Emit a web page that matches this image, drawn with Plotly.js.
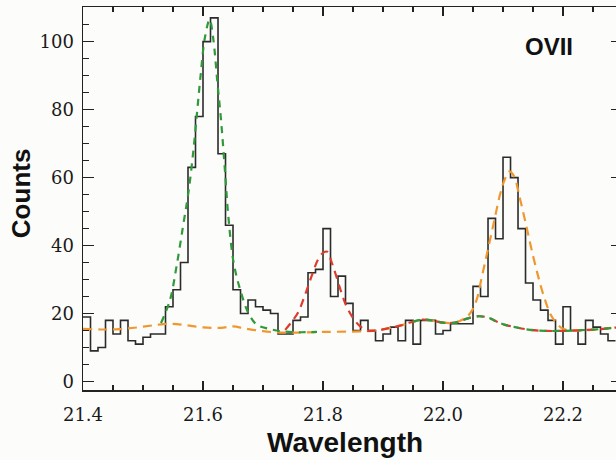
<!DOCTYPE html>
<html>
<head>
<meta charset="utf-8">
<script src="https://cdn.plot.ly/plotly-3.0.1.min.js"></script>
<style>
html,body{margin:0;padding:0;background:#fcfcfa;overflow:hidden;width:616px;height:460px;}
#chart{width:622px;height:460px;}
</style>
</head>
<body>
<div id="chart"></div>
<script>
// Histogram: bins start at 21.4 A, width 0.0125 A
const binStart = 21.4;
const binWidth = 0.0125;
const counts = [19, 9, 10, 18, 14, 18, 12, 11, 13, 14, 14, 22, 27, 35, 63, 78, 100, 107, 67, 46,
  27, 20, 24, 22, 21, 20, 14, 14, 18, 19, 32, 33, 45, 25, 31, 23, 15, 18, 15, 12,
  14, 16, 12, 18, 11, 18, 18, 14, 15, 17, 17, 17, 28, 25, 48, 42, 66, 60, 45, 29,
  24, 21, 18, 11, 22, 15, 11, 18, 16, 14, 12];

// Model curves
const orangeX = [21.40, 21.43, 21.46, 21.49, 21.52, 21.545, 21.57, 21.60, 21.63, 21.65, 21.67, 21.70, 21.73, 21.76, 21.80, 21.85, 21.88, 21.91, 21.93, 21.95, 21.965, 21.98, 22.00, 22.02, 22.035, 22.045, 22.055, 22.065, 22.075, 22.085, 22.095, 22.103, 22.11, 22.118, 22.128, 22.139, 22.15, 22.16, 22.17, 22.18, 22.19, 22.20, 22.22, 22.25, 22.27, 22.30];
const orangeY = [15.5, 15.3, 15.4, 15.9, 16.6, 17.0, 16.6, 15.9, 15.8, 16.2, 15.6, 14.8, 14.4, 14.4, 14.6, 14.7, 14.9, 15.7, 16.5, 17.6, 18.2, 18.0, 17.3, 17.3, 18.5, 20, 23.5, 31, 39, 47, 55, 59.5, 61.8, 60.5, 54, 45.6, 37, 30, 24, 19.5, 17, 15.5, 15, 15.2, 15.6, 16.1];

const greenX = [21.53, 21.545, 21.556, 21.567, 21.576, 21.584, 21.590, 21.596, 21.603, 21.611, 21.617, 21.624, 21.63, 21.637, 21.642, 21.651, 21.662, 21.676, 21.69, 21.71, 21.73, 21.76, 21.79, null,
  21.95, 21.965, 21.98, 22.00, 22.02, 22.04, 22.06, 22.075, 22.09, 22.105, 22.12, 22.145, 22.17, 22.2, 22.23, 22.26, 22.30];
const greenY = [17.2, 24, 34, 46, 56, 68, 79, 90, 101, 106.5, 101, 88, 77, 61, 49, 35, 27, 20, 16.7, 15.5, 14.8, 14.5, 14.6, null,
  17.6, 18.2, 18.0, 17.3, 17.3, 18.5, 19.2, 18.8, 17.6, 16.6, 16, 15.2, 14.9, 14.9, 15.1, 15.4, 16.1];

const redX = [21.737, 21.748, 21.759, 21.770, 21.781, 21.792, 21.8005, 21.807, 21.8145, 21.823, 21.831, 21.8395, 21.8505, 21.862, 21.873, 21.89, 21.91, 21.93, 21.95, 21.965, 21.98, 22.00, 22.02, 22.04, 22.06, 22.075, 22.09, 22.105, 22.12, 22.145, 22.17, 22.2, 22.23, 22.26, 22.30];
const redY = [15.2, 17.6, 20.5, 25.5, 31, 36, 37.9, 38.2, 35, 30.5, 26, 22, 18.6, 16.2, 15, 15, 15.7, 16.5, 17.6, 18.2, 18.0, 17.3, 17.3, 18.5, 19.2, 18.8, 17.6, 16.6, 16, 15.2, 14.9, 14.9, 15.1, 15.4, 16.1];

const xTitle = 'Wavelength';
const yTitle = 'Counts';
const label = 'OVII';

// build step edges
const edges = [];
for (let i = 0; i <= counts.length; i++) edges.push(binStart + i * binWidth);
const stepY = counts.concat([counts[counts.length - 1]]);

const traces = [
  {x: edges, y: stepY, type: 'scatter', mode: 'lines', line: {shape: 'hv', color: '#2b2b2b', width: 1.6}, hoverinfo: 'skip'},
  {x: orangeX, y: orangeY, type: 'scatter', mode: 'lines', line: {shape: 'spline', color: '#f0982e', width: 2.2, dash: '9px,6px'}},
  {x: redX, y: redY, type: 'scatter', mode: 'lines', line: {shape: 'spline', color: '#e03a2c', width: 2.2, dash: '8px,6px'}},
  {x: greenX, y: greenY, type: 'scatter', mode: 'lines', connectgaps: false, line: {shape: 'spline', color: '#2f9a3a', width: 2.2, dash: '7px,6px'}}
];

const tickFont = {family: 'DejaVu Serif', size: 18, color: '#1a1a1a'};
const titleFont = {family: 'Liberation Sans', weight: 700, color: '#111'};
const layout = {
  width: 622, height: 460,
  margin: {l: 83, r: 0, t: 7, b: 70},
  paper_bgcolor: '#fcfcfa', plot_bgcolor: '#fcfcfa',
  showlegend: false,
  xaxis: {
    range: [21.4, 22.2983], tick0: 21.4, dtick: 0.2, tickformat: '.1f',
    ticks: 'inside', ticklen: 9, tickwidth: 1.3, tickcolor: '#222',
    minor: {dtick: 0.05, ticks: 'inside', ticklen: 5, tickwidth: 1.3, tickcolor: '#222', showgrid: false},
    showline: true, linecolor: '#222', linewidth: 1.5, mirror: 'ticks',
    showgrid: false, zeroline: false, tickfont: tickFont, ticklabelstandoff: 8
  },
  yaxis: {
    range: [-2.5, 110.2], tick0: 0, dtick: 20,
    ticks: 'inside', ticklen: 11, tickwidth: 1.3, tickcolor: '#222',
    minor: {dtick: 5, ticks: 'inside', ticklen: 6, tickwidth: 1.3, tickcolor: '#222', showgrid: false},
    showline: true, linecolor: '#222', linewidth: 1.5, mirror: 'ticks',
    showgrid: false, zeroline: false, tickfont: tickFont, ticklabelstandoff: 4
  },
  annotations: [
    {x: 22.177, y: 98.5, xref: 'x', yref: 'y', text: label, showarrow: false,
     font: Object.assign({size: 24}, titleFont)},
    {x: 0.486, y: -0.136, xref: 'paper', yref: 'paper', text: xTitle, showarrow: false,
     xanchor: 'center', yanchor: 'middle', font: Object.assign({size: 28}, titleFont)},
    {x: -0.115, y: 0.514, xref: 'paper', yref: 'paper', text: yTitle, showarrow: false, textangle: -90,
     xanchor: 'center', yanchor: 'middle', font: Object.assign({size: 26}, titleFont)}
  ]
};

Plotly.newPlot('chart', traces, layout, {displayModeBar: false, staticPlot: true});
</script>
</body>
</html>
